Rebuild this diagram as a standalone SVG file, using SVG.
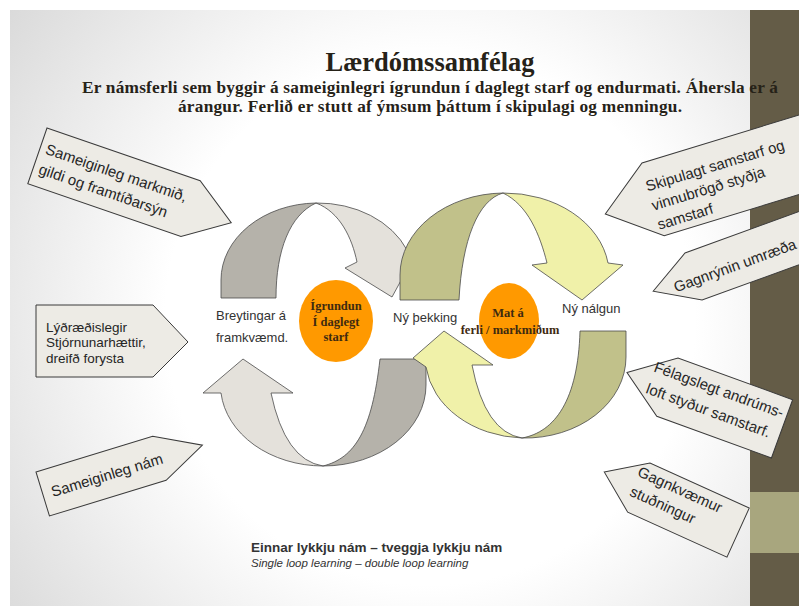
<svg xmlns="http://www.w3.org/2000/svg" width="799" height="606" viewBox="0 0 799 606">
<defs>
<radialGradient id="bg" gradientUnits="userSpaceOnUse" cx="430" cy="320" r="530">
<stop offset="0" stop-color="#ffffff"/>
<stop offset="0.5" stop-color="#ffffff"/>
<stop offset="1" stop-color="#d9d9d9"/>
</radialGradient>
</defs>
<style>
.co{fill:#EDEBE5;stroke:#3a3a3a;stroke-width:1}
.ct{font-family:"Liberation Sans",Arial,sans-serif;font-size:15px;fill:#262626}
.lp{stroke:#4a4a4a;stroke-width:0.8}
.g1{fill:#B5B2AA}.g2{fill:#E4E1DB}.o1{fill:#C1C18A}.o2{fill:#F0F1A9}
.lbl{font-family:"Liberation Sans",Arial,sans-serif;font-size:13px;fill:#333}
.ov{fill:#FF9900}
.ot{font-family:"Liberation Serif","Times New Roman",serif;font-weight:bold;font-size:12.5px;fill:#3e2a10;text-anchor:middle}
.sub{font-family:"Liberation Serif","Times New Roman",serif;font-weight:bold;font-size:17.3px;fill:#262218}
</style>
<rect x="0" y="0" width="799" height="606" fill="#ffffff"/>
<rect x="10" y="10" width="789" height="596" fill="url(#bg)"/>
<rect x="750" y="10" width="49" height="596" fill="#645C47"/>
<rect x="750" y="492" width="49" height="61" fill="#A8A67E"/>

<g id="title">
<text x="430" y="71" text-anchor="middle" font-family="Liberation Serif,Times New Roman,serif" font-weight="bold" font-size="26.5" fill="#262218">Lærdómssamfélag</text>
<text class="sub" x="82" y="93" textLength="696">Er námsferli sem byggir á sameiginlegri ígrundun í daglegt starf og endurmati. Áhersla er á</text>
<text class="sub" x="178" y="112" textLength="504">árangur. Ferlið er stutt af ýmsum þáttum í skipulagi og menningu.</text>
</g>

<g id="connectors">
<g id="loop-top-left">
<path class="lp g1" d="M221,298 L221,280 A97,77 0 0 1 316,203 C290,215 276,250 276,298 Z"/>
<path class="lp g2" d="M316,203 A97,77 0 0 1 407,250 L422,242 L392,297 L345,268 L357,262 C352,238 340,212 316,203 Z"/>
</g>
<g id="loop-bottom-left">
<path class="lp g1" d="M380,359 L426,359 L426,385 A103,81 0 0 1 323,466 C355,458 372,430 380,359 Z"/>
<path class="lp g2" d="M323,466 A103,81 0 0 1 221,393 L203,393 L243,359 L293,393 L271,393 Q285,460 323,466 Z"/>
</g>
<g id="loop-top-right">
<path class="lp o1" d="M400,300 L400,275 A105,82 0 0 1 503,193 C478,200 462,240 459,300 Z"/>
<path class="lp o2" d="M503,193 A105,82 0 0 1 608,263 L623,265 L582,300 L532,265 L547,263 C540,235 528,205 503,193 Z"/>
</g>
<g id="loop-bottom-right">
<path class="lp o1" d="M580,331 L626,331 L626,357 A101,81 0 0 1 522,438 C555,432 578,400 580,331 Z"/>
<path class="lp o2" d="M522,438 A101,81 0 0 1 426,367 L413,358 L444,331 L493,365 L472,365 Q485,432 522,438 Z"/>
</g>
</g>

<g id="node-breytingar">
<text class="lbl" x="216" y="320">Breytingar á</text>
<text class="lbl" x="216" y="342">framkvæmd.</text>
</g>
<g id="node-igrundun">
<ellipse class="ov" cx="336" cy="321" rx="37" ry="41"/>
<text class="ot" x="336" y="310">Ígrundun</text>
<text class="ot" x="336" y="326">Í daglegt</text>
<text class="ot" x="336" y="341">starf</text>
</g>
<g id="node-ny-thekking">
<text class="lbl" x="393" y="322">Ný þekking</text>
</g>
<g id="node-mat">
<ellipse class="ov" cx="509" cy="321" rx="30" ry="38"/>
<text class="ot" x="508" y="317">Mat á</text>
<text class="ot" x="510" y="334">ferli / markmiðum</text>
</g>
<g id="node-ny-nalgun">
<text class="lbl" x="562" y="313">Ný nálgun</text>
</g>

<g id="callout-sameiginleg-markmid" transform="translate(47,128) rotate(19)">
<polygon class="co" points="0,0 162,0 205,29.5 162,59 0,59"/>
<text class="ct" x="6" y="25">Sameiginleg markmið,</text>
<text class="ct" x="6" y="46">gildi og framtíðarsýn</text>
</g>
<g id="callout-lydraedislegir">
<polygon class="co" points="36,305 153,305 188,342 153,377 36,377"/>
<text class="ct" style="font-size:13.5px" x="46" y="332">Lýðræðislegir</text>
<text class="ct" style="font-size:13.5px" x="46" y="347">Stjórnunarhættir,</text>
<text class="ct" style="font-size:13.5px" x="46" y="363">dreifð forysta</text>
</g>
<g id="callout-sameiginleg-nam" transform="translate(36,472) rotate(-17)">
<polygon class="co" points="0,0 122,0 167,23 122,46 0,46"/>
<text class="ct" x="9" y="29">Sameiginleg nám</text>
</g>
<g id="callout-skipulagt" transform="translate(642,163) rotate(-17)">
<polygon class="co" points="-50,38 0,0 175,0 175,76 0,76"/>
<text class="ct" x="-3" y="29">Skipulagt samstarf og</text>
<text class="ct" x="-3" y="49">vinnubrögð styðja</text>
<text class="ct" x="-3" y="69">samstarf</text>
</g>
<g id="callout-gagnrynin" transform="translate(685,253) rotate(-20)">
<polygon class="co" points="-43,25 0,0 140,0 140,50 0,50"/>
<text class="ct" x="-22" y="34">Gagnrýnin umræða</text>
</g>
<g id="callout-felagslegt" transform="translate(678,358) rotate(20)">
<polygon class="co" points="-43,31 0,0 122,0 122,62 0,62"/>
<text class="ct" x="-19" y="21">Félagslegt andrúms-</text>
<text class="ct" x="-19" y="44">loft styður samstarf.</text>
</g>
<g id="callout-gagnkvaemur" transform="translate(650,463) rotate(24.4)">
<polygon class="co" points="-38,27 0,0 109,0 109,54 0,54"/>
<text class="ct" x="-7" y="17">Gagnkvæmur</text>
<text class="ct" x="-6" y="38">stuðningur</text>
</g>

<g id="caption">
<text x="251" y="552" font-family="Liberation Sans,Arial,sans-serif" font-weight="bold" font-size="13.5" fill="#333">Einnar lykkju nám – tveggja lykkju nám</text>
<text x="251" y="567" font-family="Liberation Sans,Arial,sans-serif" font-style="italic" font-size="11.5" fill="#333">Single loop learning – double loop learning</text>
</g>
</svg>
